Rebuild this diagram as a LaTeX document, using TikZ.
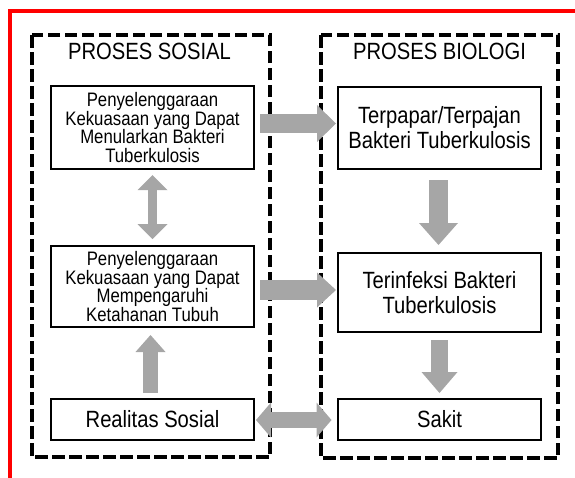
\documentclass[tikz,border=0pt]{standalone}
\usepackage{fontspec}
\setmainfont{Liberation Sans}[FakeStretch=0.86]
\usetikzlibrary{arrows.meta}
\definecolor{arrgray}{RGB}{166,166,166}
\definecolor{redframe}{RGB}{255,0,0}
\begin{document}
\begin{tikzpicture}[x=1pt,y=-1pt,
  smallbox/.style={draw, line width=2pt, minimum width=203pt, inner sep=0pt, align=center,
    font=\fontsize{19.5}{18.5}\selectfont},
  bigbox/.style={draw, line width=2pt, minimum width=203pt, inner sep=0pt, align=center,
    font=\fontsize{23.5}{25}\selectfont},
  titletext/.style={inner sep=0pt, font=\fontsize{23.5}{28}\selectfont},
  groupbox/.style={draw, line width=4pt, dash pattern=on 12.5pt off 4.5pt},
  fatarrow/.style={draw=arrgray, line width=#1},
]
\useasboundingbox (0,0) rectangle (575,477);
\clip (0,0) rectangle (575,477);
% red frame (runs off the right and bottom edges)
\draw[redframe, line width=4pt] (10,11) rectangle (600,500);
% group frames
\draw[groupbox] (32,35) rectangle (270,457);
\draw[groupbox] (321,35) rectangle (558,458);
% titles
\node[titletext] (tsos) at (149.5,51) {PROSES SOSIAL};
\node[titletext] (tbio) at (439.5,51) {PROSES BIOLOGI};
% boxes
\node[smallbox, minimum height=83pt] (sos1) at (152.5,127.5)
  {Penyelenggaraan\\Kekuasaan yang Dapat\\Menularkan Bakteri\\Tuberkulosis};
\node[smallbox, minimum height=81pt] (sos2) at (152.5,286.5)
  {Penyelenggaraan\\Kekuasaan yang Dapat\\Mempengaruhi\\Ketahanan Tubuh};
\node[bigbox, minimum height=41pt] (real) at (152.5,419.5) {Realitas Sosial};
\node[bigbox, minimum height=82pt] (bio1) at (439.5,128)
  {Terpapar/Terpajan\\Bakteri Tuberkulosis};
\node[bigbox, minimum height=79pt] (bio2) at (439.5,292.5)
  {Terinfeksi Bakteri\\Tuberkulosis};
\node[bigbox, minimum height=41pt] (sakit) at (439.5,419.5) {Sakit};
% arrows
\coordinate (a1) at ([xshift=5pt,yshift=4pt]sos1.east);
\draw[fatarrow=19pt, -{Triangle[width=37pt,length=19pt,line width=0pt]}]
  (a1) -- ([xshift=-1pt]a1 -| bio1.west);
\coordinate (a2) at ([xshift=5pt,yshift=-3.5pt]sos2.east);
\draw[fatarrow=20pt, -{Triangle[width=35pt,length=19pt,line width=0pt]}]
  (a2) -- ([xshift=-1pt]a2 -| bio2.west);
\draw[fatarrow=9pt, {Triangle[width=30pt,length=15pt,line width=0pt]}-{Triangle[width=30pt,length=15pt,line width=0pt]}]
  ([yshift=-5pt]sos1.south) -- ([yshift=6pt]sos2.north);
\draw[fatarrow=15pt, -{Triangle[width=30pt,length=17pt,line width=0pt]}]
  ([xshift=-2pt,yshift=5pt]real.north) -- ([xshift=-2pt,yshift=-7pt]sos2.south);
\draw[fatarrow=19pt, -{Triangle[width=39pt,length=22pt,line width=0pt]}]
  ([xshift=-1pt,yshift=-10pt]bio1.south) -- ([xshift=-1pt,yshift=7pt]bio2.north);
\draw[fatarrow=17pt, -{Triangle[width=36pt,length=21pt,line width=0pt]}]
  ([yshift=-7pt]bio2.south) -- ([yshift=5pt]sakit.north);
\draw[fatarrow=16pt, {Triangle[width=35pt,length=15pt,line width=0pt]}-{Triangle[width=35pt,length=15pt,line width=0pt]}]
  ([xshift=1pt,yshift=-0.5pt]real.east) -- ([xshift=-5.5pt,yshift=-0.5pt]sakit.west);
\end{tikzpicture}
\end{document}
